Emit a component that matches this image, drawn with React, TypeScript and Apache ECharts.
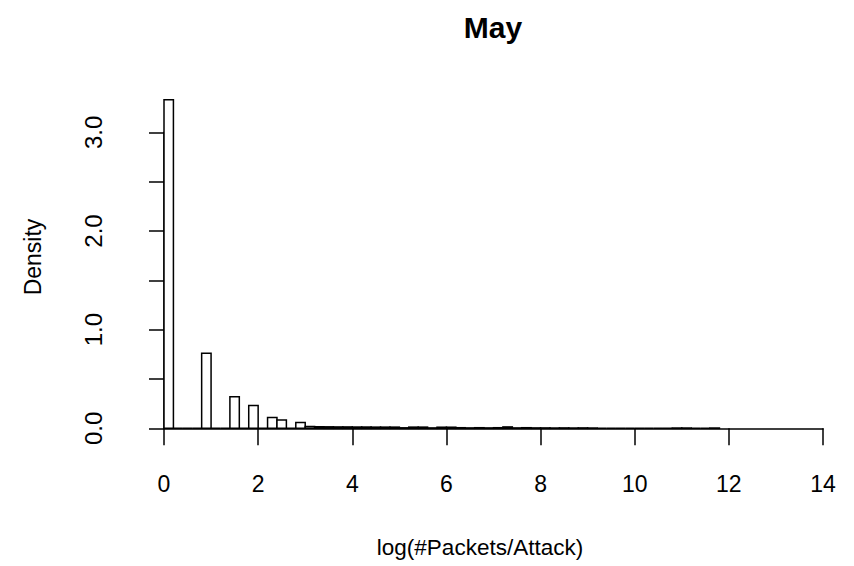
import React, { useEffect, useRef } from "react";
import * as echarts from "echarts";

// Histogram bins: width 0.2, starting at 0
const binStart = 0;
const binWidth = 0.2;
const density = [
  3.33, 0, 0, 0, 0.76,
  0, 0, 0.32, 0, 0.23,
  0, 0.11, 0.085, 0, 0.06,
  0.018, 0.016, 0.015, 0.014, 0.014,
  0.013, 0.013, 0.012, 0.012, 0.012,
  0.005, 0.012, 0.012, 0.004, 0.011,
  0.011, 0.006, 0.004, 0.006, 0.004,
  0.006, 0.014, 0.004, 0.006, 0.004,
  0.004, 0.003, 0.004, 0.003, 0.004,
  0.003, 0, 0, 0, 0,
  0, 0, 0, 0, 0.003,
  0.003, 0, 0, 0.003,
];
const xTicks = [0, 2, 4, 6, 8, 10, 12, 14];
const yTickLabels = ["0.0", "1.0", "2.0", "3.0"];
const title = "May";
const xTitle = "log(#Packets/Attack)";
const yTitle = "Density";

const FONT = "'Liberation Sans', Arial, Helvetica, sans-serif";

export default function App() {
  const ref = useRef<HTMLDivElement>(null);
  useEffect(() => {
    if (!ref.current) return;
    const chart = echarts.init(ref.current, null, { renderer: "svg" });
    const data = density.map((d, i) => [
      binStart + i * binWidth,
      binStart + (i + 1) * binWidth,
      d,
    ]);
    chart.setOption({
      animation: false,
      backgroundColor: "#ffffff",
      grid: { left: 164, right: 31, top: 132.3, bottom: 137.7 },
      xAxis: {
        type: "value",
        min: xTicks[0],
        max: xTicks[xTicks.length - 1],
        interval: 2,
        offset: 11.7,
        axisLine: { show: true, lineStyle: { color: "#000", width: 1.5 } },
        axisTick: { show: true, inside: false, length: 17, lineStyle: { color: "#000", width: 1.5 } },
        axisLabel: {
          margin: 32,
          color: "#000",
          fontSize: 23,
          fontFamily: FONT,
          formatter: (v: number) => (xTicks.includes(v) ? String(v) : ""),
        },
        splitLine: { show: false },
      },
      yAxis: {
        type: "value",
        min: 0,
        max: 3,
        interval: 0.5,
        offset: 27,
        axisLine: { show: true, lineStyle: { color: "#000", width: 1.5 } },
        axisTick: { show: true, inside: false, length: 15, lineStyle: { color: "#000", width: 1.5 } },
        axisLabel: {
          rotate: 90,
          margin: 32,
          color: "#000",
          fontSize: 24,
          fontFamily: FONT,
          formatter: (v: number) => {
            const s = v.toFixed(1);
            return yTickLabels.includes(s) ? s : "";
          },
        },
        splitLine: { show: false },
      },
      series: [
        {
          type: "custom",
          clip: false,
          data,
          renderItem: (params: any, api: any) => {
            const x0 = api.value(0);
            const x1 = api.value(1);
            const y = api.value(2);
            const p0 = api.coord([x0, y]);
            const p1 = api.coord([x1, 0]);
            return {
              type: "rect",
              shape: { x: p0[0], y: p0[1], width: p1[0] - p0[0], height: p1[1] - p0[1] },
              style: { fill: "#ffffff", stroke: "#000000", lineWidth: 1.5 },
            };
          },
        },
      ],
      graphic: [
        {
          type: "text",
          x: 493,
          y: 27,
          style: {
            text: title,
            fontSize: 30,
            fontWeight: "bold",
            fontFamily: FONT,
            fill: "#000",
            align: "center",
            verticalAlign: "middle",
            textAlign: "center",
            textVerticalAlign: "middle",
          },
        },
        {
          type: "text",
          x: 480,
          y: 547,
          style: {
            text: xTitle,
            fontSize: 22.5,
            fontFamily: FONT,
            fill: "#000",
            align: "center",
            verticalAlign: "middle",
            textAlign: "center",
            textVerticalAlign: "middle",
          },
        },
        {
          type: "text",
          x: 33,
          y: 257,
          rotation: Math.PI / 2,
          style: {
            text: yTitle,
            fontSize: 23,
            fontFamily: FONT,
            fill: "#000",
            align: "center",
            verticalAlign: "middle",
            textAlign: "center",
            textVerticalAlign: "middle",
          },
        },
      ],
    });
    return () => chart.dispose();
  }, []);
  return (
    <div
      ref={ref}
      style={{ position: "fixed", left: 0, top: 0, width: 854, height: 566 }}
    />
  );
}
